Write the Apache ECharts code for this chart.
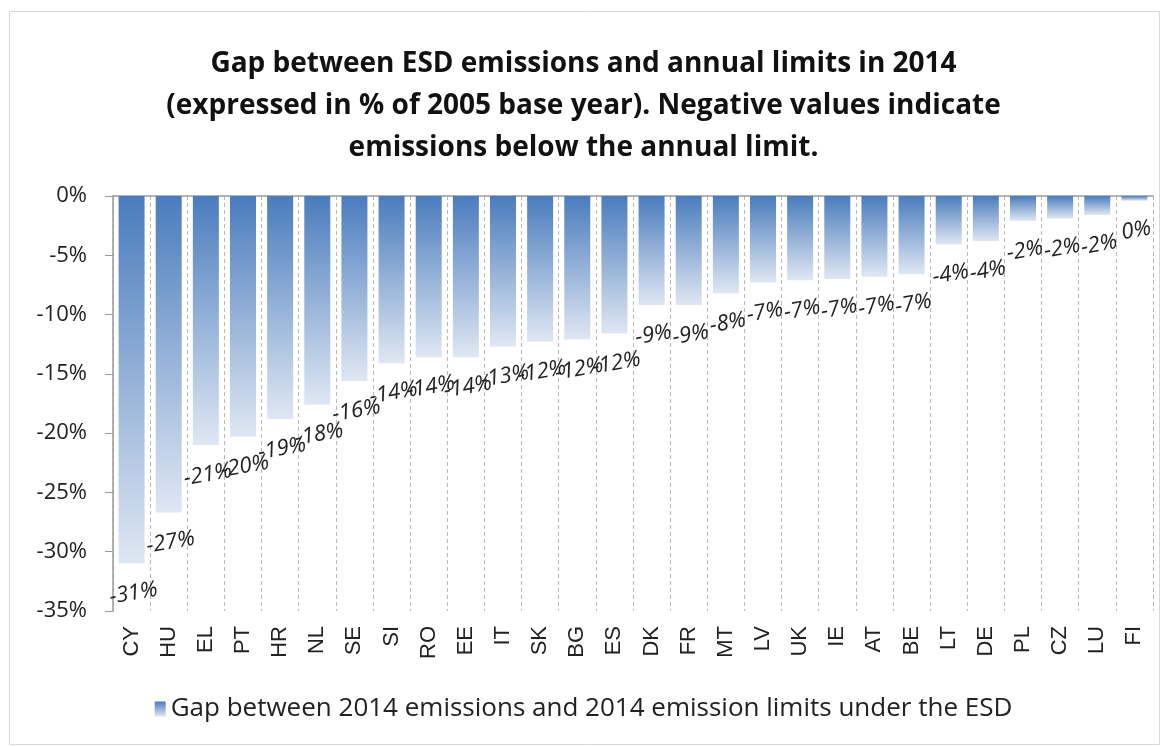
<!DOCTYPE html>
<html>
<head>
<meta charset="utf-8">
<script src="https://cdn.jsdelivr.net/npm/echarts@6/dist/echarts.min.js"></script>
<style>
html,body{margin:0;padding:0;background:#fff;}
#chart{width:1167px;height:747px;}
</style>
</head>
<body>
<div id="chart"></div>
<script>
const categories = ["CY","HU","EL","PT","HR","NL","SE","SI","RO","EE","IT","SK","BG","ES","DK","FR","MT","LV","UK","IE","AT","BE","LT","DE","PL","CZ","LU","FI"];
const gapValues = [-31.0,-26.7,-21.0,-20.3,-18.8,-17.6,-15.6,-14.1,-13.6,-13.6,-12.7,-12.3,-12.1,-11.6,-9.2,-9.2,-8.2,-7.3,-7.1,-7.0,-6.8,-6.6,-4.1,-3.8,-2.1,-1.9,-1.6,-0.4];
const yTicks = {min:-35, max:0, interval:5};
const titleLines = ["Gap between ESD emissions and annual limits in 2014","(expressed in % of 2005 base year). Negative values indicate","emissions below the annual limit."];
const seriesName = "Gap between 2014 emissions and 2014 emission limits under the ESD";

const chart = echarts.init(document.getElementById('chart'), null, {renderer:'canvas'});
const grad = new echarts.graphic.LinearGradient(0,0,0,1,[
  {offset:0,color:'#4a7cbd'},
  {offset:1,color:'#dfe7f3'}
]);
chart.setOption({
  animation:false,
  backgroundColor:'#fff',
  title:{
    text: titleLines.join('\n'),
    left:'center', top:38,
    textStyle:{fontFamily:'Open Sans', fontWeight:'bold', fontSize:28, lineHeight:42, color:'#111'}
  },
  graphic:[{type:'rect', shape:{x:9.5,y:11.5,width:1150,height:733}, style:{fill:'none',stroke:'#d9d9d9',lineWidth:1}, silent:true, z:-1}],
  legend:{
    bottom:20, left:'center', itemWidth:11, itemHeight:15, itemGap:5,
    textStyle:{fontFamily:'Open Sans', fontSize:26, color:'#222'},
    data:[{name:seriesName, icon:'rect'}]
  },
  grid:{left:113, right:14, top:196, bottom:136},
  xAxis:[{
    type:'category', data:categories, position:'bottom',
    axisLine:{show:false, onZero:false}, axisTick:{show:false},
    axisLabel:{rotate:90, margin:15, fontFamily:'Liberation Sans', fontSize:22, color:'#222', interval:0},
    splitLine:{show:true, interval:0, lineStyle:{color:'#b8b8b8', type:[4,3], width:1}}
  },{
    type:'category', data:categories, position:'top',
    axisLine:{show:true, onZero:false, lineStyle:{color:'#9a9a9a', width:1.5}}, axisTick:{show:false}, axisLabel:{show:false}
  }],
  yAxis:{
    type:'value', min:yTicks.min, max:yTicks.max, interval:yTicks.interval,
    axisLine:{show:true, lineStyle:{color:'#9a9a9a', width:1.5}},
    axisTick:{show:true, length:8, lineStyle:{color:'#9a9a9a'}},
    axisLabel:{formatter:v=>v+'%', margin:26, fontFamily:'Open Sans', fontSize:22, color:'#222'},
    splitLine:{show:false}
  },
  series:[{
    name:seriesName, type:'bar', data:gapValues, barCategoryGap:'30%',
    itemStyle:{color:grad},
    label:{
      show:true, position:'bottom', distance:19, rotate:10,
      formatter:p=>Math.round(p.value)+'%',
      fontFamily:'Open Sans', fontStyle:'italic', fontSize:22, color:'#222'
    }
  }]
});
</script>
</body>
</html>
